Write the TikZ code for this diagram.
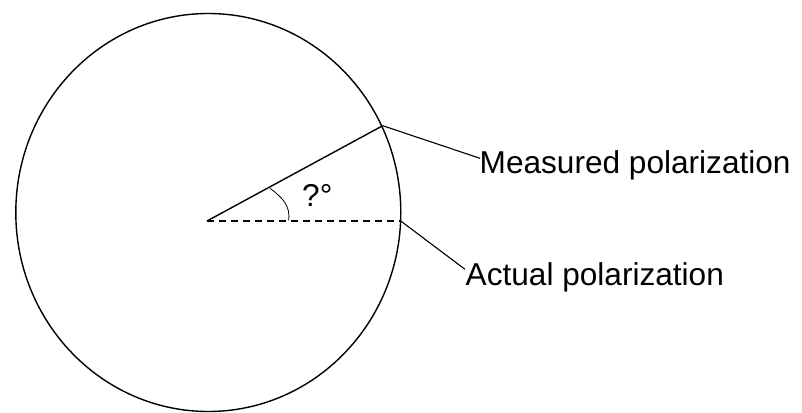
\documentclass[tikz,border=0pt]{standalone}
\usepackage{fontspec}
\setmainfont{Liberation Sans}
\begin{document}
\begin{tikzpicture}[x=1pt,y=-1pt,
  lbl/.style={inner sep=0pt,anchor=base west,font=\fontsize{31.6}{36}\selectfont},
  mainline/.style={line width=1.4pt},
  leader/.style={line width=1.1pt},
  anglearc/.style={line width=0.8pt}]
\useasboundingbox (0,0) rectangle (802,412);
\coordinate (O) at (207,221);
\draw[mainline] (208.3,212.5) ellipse [x radius=192.5, y radius=199];
\coordinate (M) at (382.7,125.7);
\coordinate (A) at (400.7,221);
\draw[mainline] (O) -- (M);
\draw[mainline,dash pattern=on 7pt off 5pt] (O) -- (A);
\coordinate (a1) at (270,188.3);
\coordinate (a2) at (288.7,220.7);
\draw[anglearc] (a1) .. controls (283,198) and (290.5,206) .. (a2);
\node[lbl] (q) at (302,206) {?°};
\node[lbl] (mt) at (479.5,173.3) {Measured polarization};
\node[lbl] (at) at (465.5,285.7) {Actual polarization};
\coordinate (me) at (480,158.3);
\coordinate (ae) at (465,269.3);
\draw[leader] (M) -- (me);
\draw[leader] (A) -- (ae);
\end{tikzpicture}
\end{document}
